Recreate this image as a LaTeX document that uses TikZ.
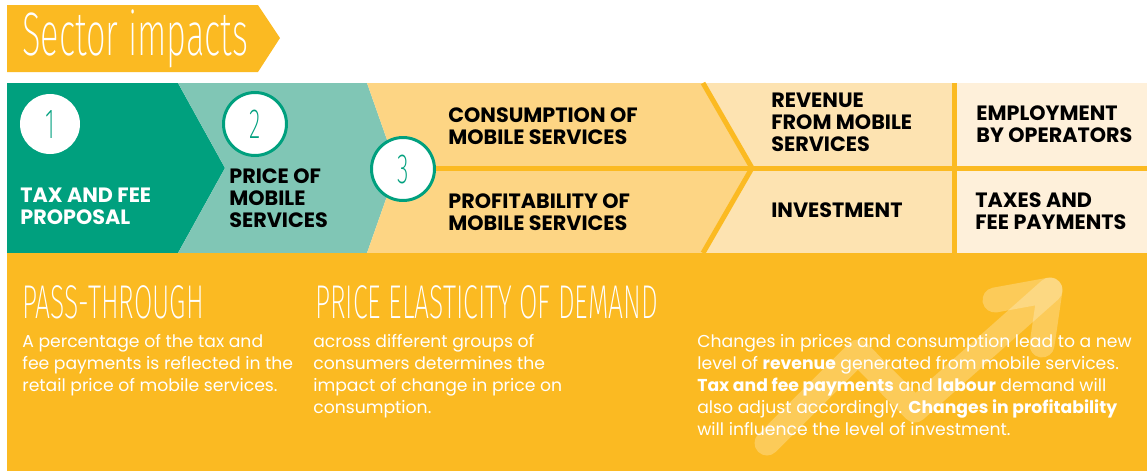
\documentclass[tikz,border=0pt]{standalone}
\usepackage{xcolor}
\usepackage{fontspec}
\setmainfont{Poppins}
\newfontfamily\thinfont[FakeStretch=0.56]{Fira Sans ExtraLight}
\usepackage{tikz}
\usetikzlibrary{positioning}
\definecolor{tealdark}{HTML}{00A07E}
\definecolor{teallight}{HTML}{80C6B5}
\definecolor{sunyellow}{HTML}{FBBA22}
\definecolor{sandA}{HTML}{FDD584}
\definecolor{sandB}{HTML}{FDE3B1}
\definecolor{sandC}{HTML}{FEF0DA}
\tikzstyle{boxtext}=[anchor=base west, align=left, inner sep=0pt, text=black,
        font=\bfseries\fontsize{11.8}{12.5}\selectfont]
\tikzstyle{heading}=[anchor=base west, inner sep=0pt, text=white,
        font=\thinfont\fontsize{27}{27}\selectfont]
\tikzstyle{body}=[anchor=base west, align=left, inner sep=0pt, text=white,
        font=\fontsize{9.8}{12.5}\selectfont]
\tikzstyle{number}=[circle, fill=white, draw=tealdark, line width=1.7pt,
        minimum size=1.26cm, inner sep=0pt, text=tealdark,
        font=\thinfont\fontsize{24}{24}\selectfont]
\tikzstyle{divider}=[draw=sunyellow, line width=0.1cm]

\begin{document}
\begin{tikzpicture}[x=0.02cm, y=-0.02cm, node distance=0.1cm]
        \useasboundingbox (0,0) rectangle (1147,471);
        \fill[sunyellow] (7,5) -- (258,5) -- (280,38) -- (258,72) -- (7,72) -- cycle;
        \node (title) [heading, font=\thinfont\fontsize{35}{35}\selectfont] at (22,55) {Sector impacts};

        \fill[tealdark] (7,83) -- (178,83) -- (225,168) -- (178,253) -- (7,253) -- cycle;
        \fill[teallight] (178,83) -- (367,83) -- (397,168) -- (367,253) -- (178,253) -- (225,168) -- cycle;
        \fill[sandA] (367,83) -- (703,83) -- (752,168) -- (703,253) -- (367,253) -- (397,168) -- cycle;
        \fill[sandB] (703,83) -- (954,83) -- (954,253) -- (703,253) -- (752,168) -- cycle;
        \fill[sandC] (954,83) rectangle (1147,253);
        \draw[divider] (397,168) -- (1147,168);
        \draw[divider, line join=miter] (703,83) -- (752,168) -- (703,253);
        \draw[divider] (954,83) -- (954,253);
        \fill[sunyellow] (7,253) rectangle (1147,471);

        \node (One) [number, draw=none, minimum size=1.2cm] at (50,124) {1};
        \node (Two) [number] at (255,124) {2};
        \node (Three) [number] at (403,169) {3};

        \node (Tax) [boxtext, text=white] at (20,224) {TAX AND FEE\\PROPOSAL};
        \node (Price) [boxtext] at (229,227) {PRICE OF\\MOBILE\\SERVICES};
        \node (Consumption) [boxtext] at (448,144) {CONSUMPTION OF\\MOBILE SERVICES};
        \node (Profitability) [boxtext] at (448,230) {PROFITABILITY OF\\MOBILE SERVICES};
        \node (Revenue) [boxtext] at (771,151) {REVENUE\\FROM MOBILE\\SERVICES};
        \node (Investment) [boxtext] at (771,217) {INVESTMENT};
        \node (Employment) [boxtext] at (976,142) {EMPLOYMENT\\BY OPERATORS};
        \node (Taxes) [boxtext] at (975,229) {TAXES AND\\FEE PAYMENTS};

        \draw[white, opacity=0.25, line width=0.5cm, line cap=round, line join=round]
          (767,443) -- (858,352) -- (915,410) -- (1050,290);
        \draw[white, opacity=0.25, line width=0.5cm, line cap=round, line join=round]
          (995,300) -- (1050,290) -- (1042,345);

        \node (PassThrough) [heading] at (22,318) {PASS-THROUGH};
        \node (Elasticity) [heading] at (315,318) {PRICE ELASTICITY OF DEMAND};
        \node (PassText) [body] at (22,391)
        {A percentage of the tax and\\fee payments is reflected in the\\retail price of mobile services.};
        \node (ElasticityText) [body] at (313,413)
        {across different groups of\\consumers determines the\\impact of change in price on\\consumption.};
        \node (ChangesText) [body] at (697,435)
        {Changes in prices and consumption lead to a new\\
         level of \textbf{revenue} generated from mobile services.\\
         \textbf{Tax and fee payments} and \textbf{labour} demand will\\
         also adjust accordingly. \textbf{Changes in profitability}\\
         will influence the level of investment.};
\end{tikzpicture}
\end{document}
